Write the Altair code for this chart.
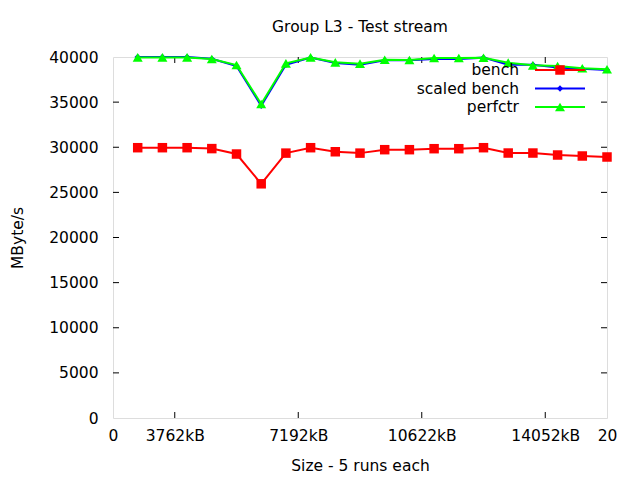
import altair as alt
import pandas as pd

sizes = list(range(1, 21))
bench = [29950, 29950, 29950, 29850, 29250, 25950, 29350, 29950, 29500, 29350,
         29730, 29730, 29840, 29840, 29950, 29360, 29360, 29140, 29030, 28920]
scaled_bench = [40000, 40000, 40000, 39800, 39000, 34600, 39130, 39930, 39330, 39130,
                39640, 39640, 39790, 39790, 39930, 39150, 39150, 38850, 38710, 38560]
perfctr = [39950, 39950, 39950, 39780, 39110, 34790, 39300, 39950, 39410, 39260,
           39700, 39670, 39890, 39890, 39920, 39370, 39080, 39000, 38750, 38640]

x_tick_values = [0, 2.5, 7.5, 12.5, 17.5, 20]
x_tick_labels = ["0", "3762kB", "7192kB", "10622kB", "14052kB", "20"]
y_tick_values = [0, 5000, 10000, 15000, 20000, 25000, 30000, 35000, 40000]

series_names = ["bench", "scaled bench", "perfctr"]
series_colors = ["#ff0000", "#0000ff", "#00ff00"]
series_shapes = ["square", "diamond", "triangle-up"]
series_sizes = [90, 40, 100]

W, H = 494, 361
FONT = "DejaVu Sans"
FS = 15.5

label_expr = " : ".join(
    f"datum.value == {v} ? '{l}'" for v, l in zip(x_tick_values, x_tick_labels)
) + " : ''"

xscale = alt.Scale(domain=[0, 20], nice=False, zero=False)
yscale = alt.Scale(domain=[0, 40000], nice=False)

df = pd.DataFrame({"size": sizes * 3,
                   "value": bench + scaled_bench + perfctr,
                   "series": ["bench"] * 20 + ["scaled bench"] * 20 + ["perfctr"] * 20})

layers = []

# axes (labels only)
base_axes = alt.Chart(pd.DataFrame({"size": [0], "value": [0]})).mark_point(opacity=0).encode(
    x=alt.X("size:Q", scale=xscale,
            axis=alt.Axis(values=x_tick_values, labelExpr=label_expr, tickSize=0, domain=False,
                          grid=False, labelPadding=10, labelFontSize=FS, labelFont=FONT,
                          labelColor="#000000", title="Size - 5 runs each", titleFont=FONT,
                          titleFontSize=FS, titleFontWeight="normal", titleColor="#000000",
                          titleX=W / 2, titleY=47, titleBaseline="middle", labelFlush=False)),
    y=alt.Y("value:Q", scale=yscale,
            axis=alt.Axis(values=y_tick_values, format="d", tickSize=0, domain=False, grid=False,
                          labelPadding=15, labelFontSize=FS, labelFont=FONT, labelColor="#000000",
                          title="MByte/s", titleFont=FONT, titleFontSize=FS,
                          titleFontWeight="normal", titleColor="#000000",
                          titleX=-96, titleY=H / 2, titleAngle=-90, titleBaseline="middle",
                          labelFlush=False)),
)
layers.append(base_axes)

# inward tick marks (bottom/top, left/right mirrors)
xt = pd.DataFrame({"size": x_tick_values[1:-1]})
yt = pd.DataFrame({"value": y_tick_values[1:-1]})
layers.append(alt.Chart(xt).mark_rule(color="black", strokeWidth=1).encode(
    x=alt.X("size:Q", scale=xscale), y=alt.value(H), y2=alt.value(H - 6)))
layers.append(alt.Chart(xt).mark_rule(color="black", strokeWidth=1).encode(
    x=alt.X("size:Q", scale=xscale), y=alt.value(0), y2=alt.value(6)))
layers.append(alt.Chart(yt).mark_rule(color="black", strokeWidth=1).encode(
    y=alt.Y("value:Q", scale=yscale), x=alt.value(0), x2=alt.value(6)))
layers.append(alt.Chart(yt).mark_rule(color="black", strokeWidth=1).encode(
    y=alt.Y("value:Q", scale=yscale), x=alt.value(W - 6), x2=alt.value(W)))

for name, color, shape, sz in zip(series_names, series_colors, series_shapes, series_sizes):
    d = df[df["series"] == name]
    layers.append(alt.Chart(d).mark_line(color=color, strokeWidth=2).encode(
        x=alt.X("size:Q", scale=xscale), y=alt.Y("value:Q", scale=yscale)))
    layers.append(alt.Chart(d).mark_point(color=color, filled=True, shape=shape, size=sz, opacity=1).encode(
        x=alt.X("size:Q", scale=xscale), y=alt.Y("value:Q", scale=yscale)))

# legend (inside, top right)
leg_y = [13, 31.5, 50]
for i, (name, color, shape, sz) in enumerate(zip(series_names, series_colors, series_shapes, series_sizes)):
    one = pd.DataFrame({"label": [name]})
    layers.append(alt.Chart(one).mark_text(align="right", baseline="middle", font=FONT,
                                           fontSize=FS, color="#000000").encode(
        text="label:N", x=alt.value(406), y=alt.value(leg_y[i])))
    layers.append(alt.Chart(one).mark_rule(color=color, strokeWidth=2).encode(
        x=alt.value(422), x2=alt.value(472), y=alt.value(leg_y[i])))
    layers.append(alt.Chart(one).mark_point(color=color, filled=True, shape=shape, size=sz, opacity=1).encode(
        x=alt.value(447), y=alt.value(leg_y[i])))

chart = alt.layer(*layers).properties(
    width=W, height=H,
    title=alt.TitleParams("Group L3 - Test stream", font=FONT, fontSize=FS, fontWeight="normal",
                          color="#000000", anchor="middle", offset=15),
    autosize=alt.AutoSizeParams(type="none"),
    padding={"left": 113, "top": 57, "right": 33, "bottom": 62},
).configure_view(stroke="black", strokeWidth=1).configure(background="white")

chart.save("out.html", embed_options={"renderer": "svg", "actions": False})
